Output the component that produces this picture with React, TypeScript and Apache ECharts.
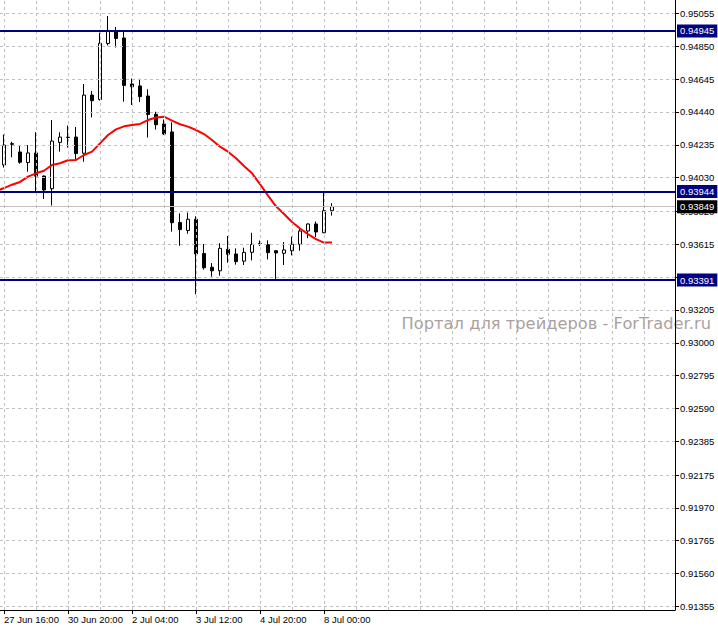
import React, { useEffect, useRef } from "react";
import * as echarts from "echarts";

const times = [
  "27 Jun 16:00", "27 Jun 20:00", "29 Jun 20:00", "30 Jun 00:00", "30 Jun 04:00", "30 Jun 08:00",
  "30 Jun 12:00", "30 Jun 16:00", "30 Jun 20:00", "1 Jul 00:00", "1 Jul 04:00", "1 Jul 08:00",
  "1 Jul 12:00", "1 Jul 16:00", "1 Jul 20:00", "2 Jul 00:00", "2 Jul 04:00", "2 Jul 08:00",
  "2 Jul 12:00", "2 Jul 16:00", "2 Jul 20:00", "3 Jul 00:00", "3 Jul 04:00", "3 Jul 08:00",
  "3 Jul 12:00", "3 Jul 16:00", "3 Jul 20:00", "4 Jul 00:00", "4 Jul 04:00", "4 Jul 08:00",
  "4 Jul 12:00", "4 Jul 16:00", "4 Jul 20:00", "6 Jul 20:00", "7 Jul 00:00", "7 Jul 04:00",
  "7 Jul 08:00", "7 Jul 12:00", "7 Jul 16:00", "7 Jul 20:00", "8 Jul 00:00", "8 Jul 04:00",
];

const open = [
  0.94109, 0.94242, 0.94190, 0.94124, 0.94184, 0.94040, 0.93961, 0.94250, 0.94282, 0.94283,
  0.94182, 0.94545, 0.94517, 0.94867, 0.94945, 0.94901, 0.94614, 0.94602, 0.94539, 0.94425,
  0.94365, 0.94315, 0.93750, 0.93700, 0.93770, 0.93557, 0.93471, 0.93449, 0.93583, 0.93554,
  0.93509, 0.93564, 0.93620, 0.93612, 0.93574, 0.93558, 0.93574, 0.93614, 0.93697, 0.93741,
  0.93686, 0.93824,
];
const close = [
  0.94233, 0.94238, 0.94126, 0.94184, 0.94039, 0.93953, 0.94258, 0.94283, 0.94281, 0.94180,
  0.94545, 0.94510, 0.94868, 0.94948, 0.94898, 0.94605, 0.94597, 0.94535, 0.94424, 0.94360,
  0.94302, 0.93749, 0.93706, 0.93770, 0.93554, 0.93468, 0.93449, 0.93589, 0.93552, 0.93506,
  0.93564, 0.93614, 0.93619, 0.93562, 0.93560, 0.93579, 0.93615, 0.93697, 0.93741, 0.93691,
  0.93824, 0.93849,
];
const high = [
  0.94299, 0.94254, 0.94233, 0.94233, 0.94313, 0.94043, 0.94389, 0.94313, 0.94355, 0.94346,
  0.94614, 0.94570, 0.94934, 0.95038, 0.94970, 0.94948, 0.94648, 0.94646, 0.94581, 0.94441,
  0.94393, 0.94375, 0.93807, 0.93812, 0.93789, 0.93616, 0.93497, 0.93621, 0.93666, 0.93589,
  0.93593, 0.93686, 0.93638, 0.93639, 0.93577, 0.93628, 0.93662, 0.93716, 0.93744, 0.93756,
  0.93940, 0.93870,
];
const low = [
  0.94093, 0.94157, 0.94117, 0.94067, 0.93940, 0.93897, 0.93856, 0.94192, 0.94218, 0.94134,
  0.94129, 0.94406, 0.94511, 0.94854, 0.94842, 0.94504, 0.94483, 0.94502, 0.94280, 0.94330,
  0.94296, 0.93693, 0.93605, 0.93680, 0.93302, 0.93456, 0.93412, 0.93418, 0.93499, 0.93487,
  0.93485, 0.93514, 0.93603, 0.93520, 0.93398, 0.93485, 0.93545, 0.93574, 0.93652, 0.93660,
  0.93684, 0.93793,
];

// moving average, first value belongs to the bar before the first visible one
const maFirstIndex = -1;
const maValues = [
  0.93945, 0.93965, 0.93986, 0.94003, 0.94036, 0.94057, 0.94073, 0.94109, 0.94120, 0.94138,
  0.94140, 0.94171, 0.94192, 0.94244, 0.94296, 0.94331, 0.94350, 0.94358, 0.94365, 0.94389,
  0.94405, 0.94410, 0.94386, 0.94363, 0.94348, 0.94327, 0.94302, 0.94265, 0.94223, 0.94192,
  0.94151, 0.94102, 0.94057, 0.93990, 0.93918, 0.93851, 0.93803, 0.93753, 0.93713, 0.93678,
  0.93646, 0.93625, 0.93625,
];

const yTicks = [
  0.95055, 0.9485, 0.94645, 0.9444, 0.94235, 0.9403, 0.9382, 0.93615, 0.9341, 0.93205,
  0.93, 0.92795, 0.9259, 0.92385, 0.92175, 0.9197, 0.91765, 0.9156, 0.91355,
];
const xLabelIndices = [0, 8, 16, 24, 32, 40];
const xGridIndices = [0, 4, 8, 12, 16, 20, 24, 28, 32, 36, 40, 44, 48, 52, 56, 60, 64, 68, 72, 76, 80];

const levels = [0.94945, 0.93944, 0.93391];
const currentPrice = 0.93849;

const Y_MIN = 0.91333;
const Y_MAX = 0.95138;
const X_MIN = -0.5;
const X_MAX = 83.875;

const FONT = '"Liberation Sans", Arial, sans-serif';

export default function App() {
  const ref = useRef<HTMLDivElement>(null);

  useEffect(() => {
    if (!ref.current) return;
    const chart = echarts.init(ref.current, undefined, { renderer: "svg" });

    const candles = times.map((_, i) => [i, open[i], close[i], low[i], high[i]]);
    const ma = maValues.map((v, k) => [k + maFirstIndex, v]);
    const fmt = (p: any) => Number(p.value).toFixed(5);

    chart.setOption({
      animation: false,
      backgroundColor: "#ffffff",
      grid: { left: 0, top: 0, width: 675, height: 610, containLabel: false },
      xAxis: {
        type: "value",
        min: X_MIN,
        max: X_MAX,
        splitLine: { show: false },
        axisLine: { show: true, lineStyle: { color: "#000", width: 1 } },
        axisTick: {
          show: true,
          customValues: xLabelIndices,
          length: 4,
          lineStyle: { color: "#000" },
        },
        axisLabel: {
          show: true,
          customValues: xLabelIndices,
          formatter: (v: number) => times[Math.round(v)] ?? "",
          align: "left",
          margin: 4,
          color: "#000",
          fontSize: 9.5,
          fontFamily: FONT,
        },
      },
      yAxis: {
        type: "value",
        position: "right",
        min: Y_MIN,
        max: Y_MAX,
        scale: true,
        splitLine: { show: false },
        axisLine: { show: true, onZero: false, lineStyle: { color: "#000", width: 1 } },
        axisTick: {
          show: true,
          customValues: yTicks,
          length: 4,
          lineStyle: { color: "#000" },
        },
        axisLabel: {
          show: true,
          customValues: yTicks,
          formatter: (v: number) => v.toFixed(5),
          margin: 5,
          color: "#000",
          fontSize: 9.5,
          fontFamily: FONT,
        },
      },
      graphic: [
        {
          type: "text",
          right: 7,
          top: 315,
          z: 0,
          style: {
            text: "Портал для трейдеров - ForTrader.ru",
            fill: "#ac9f9f",
            fontSize: 16.3,
            fontFamily: '"DejaVu Sans", Verdana, sans-serif',
          },
        },
      ],
      series: [
        {
          name: "grid",
          type: "line",
          data: [],
          z: 1,
          silent: true,
          markLine: {
            silent: true,
            precision: 6,
            symbol: ["none", "none"],
            label: { show: false },
            lineStyle: { color: "#c0c0c0", type: [3, 3], width: 1 },
            data: [
              ...yTicks.map((v) => ({ yAxis: v })),
              ...xGridIndices.map((i) => ({ xAxis: i })),
            ],
          },
        },
        {
          name: "price",
          type: "line",
          data: [],
          z: 2,
          silent: true,
          markLine: {
            silent: true,
            precision: 6,
            symbol: ["none", "none"],
            lineStyle: { color: "#c0c0c0", type: "solid", width: 1 },
            label: {
              show: true,
              position: "end",
              distance: 2,
              formatter: fmt,
              color: "#fff",
              backgroundColor: "#000",
              padding: [2, 3, 1, 3],
              fontSize: 9.5,
              fontFamily: FONT,
            },
            data: [{ yAxis: currentPrice }],
          },
        },
        {
          name: "candles",
          type: "candlestick",
          data: candles,
          encode: { x: 0, y: [1, 2, 3, 4] },
          barWidth: 4,
          z: 3,
          itemStyle: {
            color: "#ffffff",
            color0: "#000000",
            borderColor: "#000000",
            borderColor0: "#000000",
            borderWidth: 1,
          },
        },
        {
          name: "MA",
          type: "line",
          data: ma,
          symbol: "none",
          clip: true,
          z: 4,
          lineStyle: { color: "#ff0000", width: 2 },
        },
        {
          name: "levels",
          type: "line",
          data: [],
          z: 5,
          silent: true,
          markLine: {
            silent: true,
            precision: 6,
            symbol: ["none", "none"],
            lineStyle: { color: "#000080", type: "solid", width: 2 },
            label: {
              show: true,
              position: "end",
              distance: 2,
              formatter: fmt,
              color: "#fff",
              backgroundColor: "#000080",
              padding: [2, 3, 1, 3],
              fontSize: 9.5,
              fontFamily: FONT,
            },
            data: levels.map((v) => ({ yAxis: v })),
          },
        },
      ],
    });

    return () => chart.dispose();
  }, []);

  return (
    <div
      ref={ref}
      style={{ position: "absolute", left: 0, top: 0, width: 718, height: 628, background: "#fff" }}
    />
  );
}
